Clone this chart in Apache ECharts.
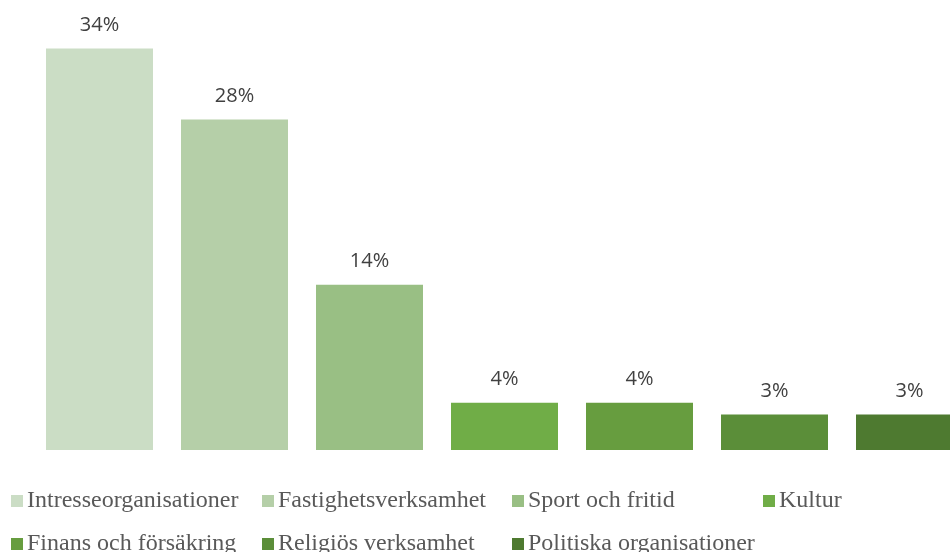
<!DOCTYPE html>
<html><head><meta charset="utf-8">
<script src="https://cdn.jsdelivr.net/npm/echarts@6/dist/echarts.min.js"></script>
<style>html,body{margin:0;padding:0;background:#fff}#c{width:950px;height:552px}</style>
</head><body><div id="c"></div>
<script>
const categories = ["Intresseorganisationer","Fastighetsverksamhet","Sport och fritid","Kultur","Finans och försäkring","Religiös verksamhet","Politiska organisationer"];
const values = [34, 28, 14, 4, 4, 3, 3];
const colors = ["#cbddc5","#b5cfa8","#99bf84","#70ad47","#679d3f","#5b8e39","#4e7a30"];
const legendColumns = [[0,4],[1,5],[2,6],[3]];

const series = categories.map((name, i) => ({
  name: name,
  type: 'bar',
  stack: 'all',
  barWidth: 107,
  itemStyle: { color: colors[i] },
  label: { show: true, position: 'top', distance: 13, formatter: p => p.value + '%', color: '#404040', fontFamily: 'Open Sans', fontSize: 20 },
  data: categories.map((c, j) => j === i ? values[i] : null)
}));

const legends = legendColumns.map((col, k) => ({
  orient: 'vertical',
  left: [6, 257, 507, 758][k],
  top: 484,
  height: 120,
  itemWidth: 12, itemHeight: 12, itemGap: 19,
  icon: 'rect',
  textStyle: { fontFamily: 'Liberation Serif', fontSize: 24, color: '#595959', padding: [0,0,0,-1] },
  data: col.map(i => categories[i])
}));

const chart = echarts.init(document.getElementById('c'));
chart.setOption({
  animation: false,
  grid: { left: 32, width: 945, top: 25, bottom: 102, containLabel: false, outerBoundsMode: 'none' },
  xAxis: { type: 'category', data: categories, show: false, axisTick: { show: false } },
  yAxis: { type: 'value', min: 0, max: 36, show: false, splitLine: { show: false } },
  legend: legends,
  series: series
});
</script></body></html>
